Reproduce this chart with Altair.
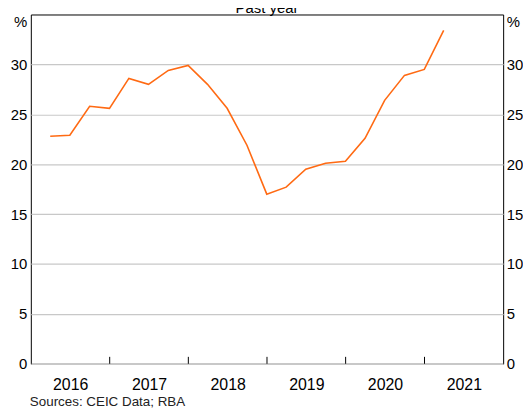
import altair as alt
import pandas as pd

# ---- data ----
quarters = [
    "2016-03-31", "2016-06-30", "2016-09-30", "2016-12-31",
    "2017-03-31", "2017-06-30", "2017-09-30", "2017-12-31",
    "2018-03-31", "2018-06-30", "2018-09-30", "2018-12-31",
    "2019-03-31", "2019-06-30", "2019-09-30", "2019-12-31",
    "2020-03-31", "2020-06-30", "2020-09-30", "2020-12-31",
    "2021-03-31",
]
values = [
    22.8, 22.9, 25.8, 25.6,
    28.6, 28.0, 29.4, 29.9,
    28.0, 25.6, 21.9, 17.0,
    17.7, 19.5, 20.1, 20.3,
    22.6, 26.4, 28.9, 29.5,
    33.4,
]
label_years = [2016, 2017, 2018, 2019, 2020, 2021]
tick_years = [2017, 2018, 2019, 2020, 2021]
y_ticks = [0, 5, 10, 15, 20, 25, 30]
y_domain = [0, 35]
title_text = "Past year"
source_text = "Sources: CEIC Data; RBA"
unit = "%"

FONT = "Liberation Sans"
LINE_COLOR = "#ff6a13"

df = pd.DataFrame({"date": pd.to_datetime(quarters), "value": values})
ticks_df = pd.DataFrame({"date": pd.to_datetime([f"{y}-01-01" for y in tick_years])})
src_df = pd.DataFrame({"t": [source_text]})
title_df = pd.DataFrame({"t": [title_text]})

x_scale = alt.Scale(domain=[alt.DateTime(year=2016, month=1, date=1),
                            alt.DateTime(year=2022, month=1, date=1)])
y_scale = alt.Scale(domain=y_domain, nice=False, zero=True)

x_axis = alt.Axis(
    values=[alt.DateTime(year=y, month=1, date=1) for y in label_years],
    format="%Y", labelOffset=39.65, labelPadding=26, labelBaseline="alphabetic",
    labelFontSize=16, labelFlush=False, labelOverlap=False,
    grid=False, ticks=False, domain=False, title=None,
)

left_axis = alt.Axis(
    values=y_ticks, orient="left", grid=True, gridColor="#c8c8c8", gridWidth=1.2,
    ticks=False, domain=False, labelPadding=4, labelFontSize=15,
    title=unit, titleAngle=0, titleAlign="right", titleBaseline="alphabetic",
    titleX=-4, titleY=12, titleFontSize=15, titleFontWeight="normal",
)
right_axis = alt.Axis(
    values=y_ticks, orient="right", grid=False,
    ticks=False, domain=False, labelPadding=3, labelFontSize=15,
    title=unit, titleAngle=0, titleAlign="left", titleBaseline="alphabetic",
    titleX=3, titleY=12, titleFontSize=15, titleFontWeight="normal",
)

line = alt.Chart(df).mark_line(color=LINE_COLOR, strokeWidth=1.6).encode(
    x=alt.X("date:T", scale=x_scale, axis=x_axis),
    y=alt.Y("value:Q", scale=y_scale, axis=left_axis),
)
right = alt.Chart(df).mark_line(opacity=0).encode(
    x=alt.X("date:T", scale=x_scale),
    y=alt.Y("value:Q", scale=y_scale, axis=right_axis),
)
ticks = alt.Chart(ticks_df).mark_rule(color="black", strokeWidth=1).encode(
    x=alt.X("date:T", scale=x_scale),
    y=alt.value(345), y2=alt.value(352),
)
source = alt.Chart(src_df).mark_text(
    align="left", baseline="alphabetic", fontSize=13.5, font=FONT, color="#222222"
).encode(text="t:N", x=alt.value(-1), y=alt.value(395))
title = alt.Chart(title_df).mark_text(
    align="center", baseline="alphabetic", fontSize=15, font=FONT, color="black"
).encode(text="t:N", x=alt.value(238), y=alt.value(-1.5))

chart = (
    alt.layer(line, right, ticks, source, title)
    .resolve_scale(y="independent")
    .properties(
        width=476, height=352,
        padding={"left": 23, "top": 5, "right": 20, "bottom": 43},
        autosize=alt.AutoSizeParams(type="none"),
    )
    .configure_view(stroke="black", strokeWidth=1)
    .configure_axis(labelFont=FONT, labelColor="black", titleFont=FONT, titleColor="black")
)

chart.save("out.html", embed_options={"renderer": "svg", "actions": False})
